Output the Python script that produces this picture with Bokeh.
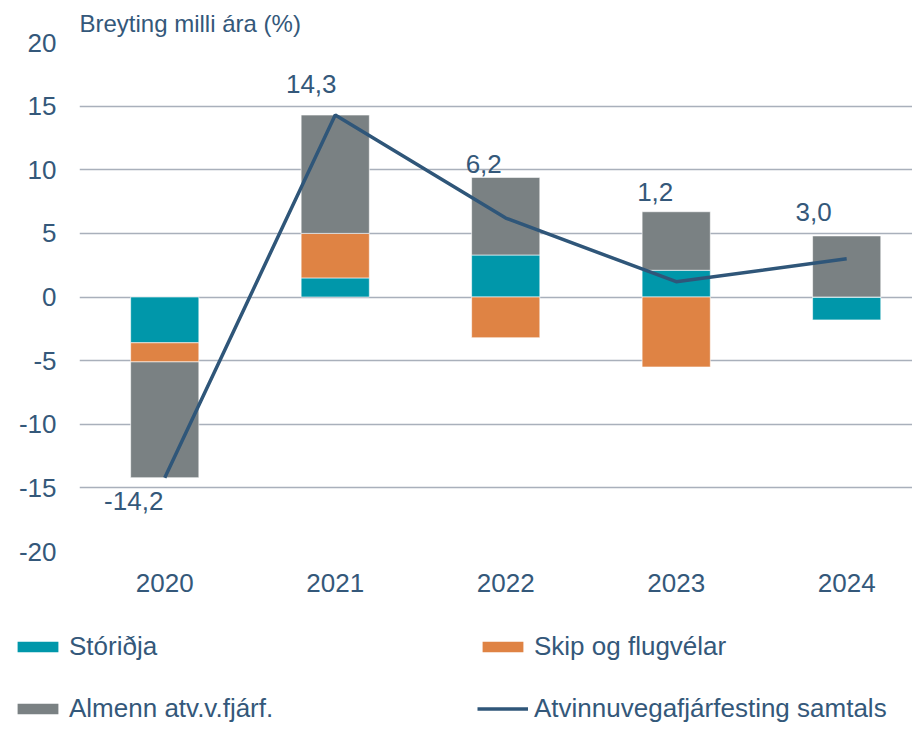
import numpy as np
from bokeh.plotting import figure
from bokeh.layouts import column
from bokeh.models import Range1d, FixedTicker, Legend, LegendItem, ColumnDataSource
from bokeh.core.properties import value
from bokeh.embed import file_html
from bokeh.resources import INLINE

years = ["2020", "2021", "2022", "2023", "2024"]
storidja = [-3.6, 1.5, 3.3, 2.1, -1.8]
skip_flug = [-1.5, 3.5, -3.2, -5.5, 0.0]
almenn = [-9.1, 9.3, 6.1, 4.6, 4.8]
samtals = [-14.2, 14.3, 6.2, 1.2, 3.0]
y_ticks = [-20, -15, -10, -5, 0, 5, 10, 15, 20]
series_names = ["Stóriðja", "Skip og flugvélar", "Almenn atv.v.fjárf."]
line_name = "Atvinnuvegafjárfesting samtals"
title_text = "Breyting milli ára (%)"

# label offsets in screen pixels (style only)
label_dx = [-31, -24, -22, -21, -33]
label_dy = [23, -31, -54, -90, -47]

TEXT = "#34587A"
FONT = "Liberation Sans"
COLORS = ["#0097AA", "#DF8344", "#7A8183"]
LINE = "#2F5679"

W = 912
H_MAIN = 610
H_LEG = 114

x = np.arange(len(years))

# stacked bar geometry (positives stack up, negatives stack down)
pos_base = np.zeros(len(years))
neg_base = np.zeros(len(years))
bar_sources = []
for series in [storidja, skip_flug, almenn]:
    vals = np.array(series, dtype=float)
    bottom = np.where(vals >= 0, pos_base, neg_base)
    top = bottom + vals
    pos_base = np.where(vals >= 0, top, pos_base)
    neg_base = np.where(vals < 0, top, neg_base)
    bar_sources.append(ColumnDataSource(dict(x=x, top=top, bottom=bottom)))

p = figure(width=W, height=H_MAIN, output_backend="svg", toolbar_location=None,
           x_range=Range1d(-0.5, 4.386), y_range=Range1d(-20, 20),
           min_border_left=79, min_border_right=0, min_border_top=42,
           min_border_bottom=H_MAIN - 551)
p.frame_align = False
p.outline_line_color = None
p.background_fill_color = "white"
p.border_fill_color = "white"

for src, color in zip(bar_sources, COLORS):
    p.vbar(x="x", top="top", bottom="bottom", width=0.4, source=src,
           fill_color=color, line_color="white", line_width=0.6)

p.line(x, samtals, line_color=LINE, line_width=3.5)

lbl_src = ColumnDataSource(dict(x=x, y=samtals,
                                t=[f"{v:.1f}".replace(".", ",") for v in samtals],
                                dx=label_dx, dy=label_dy))
p.text(x="x", y="y", text="t", x_offset="dx", y_offset="dy", source=lbl_src,
       text_align="center", text_baseline="middle", text_color=TEXT,
       text_font=value(FONT), text_font_size="26px")

p.xaxis.ticker = FixedTicker(ticks=list(x))
p.xaxis.major_label_overrides = {int(i): y for i, y in zip(x, years)}
p.yaxis.ticker = FixedTicker(ticks=y_ticks)
p.yaxis.major_label_overrides = {t: str(t) for t in y_ticks}
for ax in [p.xaxis[0], p.yaxis[0]]:
    ax.axis_line_color = None
    ax.major_tick_line_color = None
    ax.minor_tick_line_color = None
    ax.major_label_text_color = TEXT
    ax.major_label_text_font = FONT
    ax.major_label_text_font_size = "26px"
p.yaxis.major_label_standoff = 17
p.xaxis.major_label_standoff = 16
p.xgrid.grid_line_color = None
p.ygrid.grid_line_color = "#A9B0BB"
p.ygrid.grid_line_width = 1.5

p.title.text = title_text
p.title.align = "left"
p.title.offset = 0
p.title.standoff = 12
p.title.text_font = FONT
p.title.text_font_size = "24px"
p.title.text_font_style = "normal"
p.title.text_color = TEXT

# legend figure: same glyph styles, data kept out of its view
pl = figure(width=W, height=H_LEG, output_backend="svg", toolbar_location=None,
            x_range=Range1d(100, 101), y_range=Range1d(100, 101),
            x_axis_type=None, y_axis_type=None,
            min_border_left=0, min_border_right=0, min_border_top=0, min_border_bottom=0)
pl.frame_align = False
pl.outline_line_color = None
pl.grid.grid_line_color = None
pl.background_fill_color = "white"
pl.border_fill_color = "white"
leg_bars = [pl.vbar(x="x", top="top", bottom="bottom", width=0.4, source=src,
                    fill_color=color, line_color=None)
            for src, color in zip(bar_sources, COLORS)]
leg_line = pl.line(x, samtals, line_color=LINE, line_width=3.5)

def make_legend(items, vy):
    lg = Legend(items=items, location=(12, vy), orientation="horizontal",
                glyph_width=51, glyph_height=13, label_height=13, label_width=400,
                label_standoff=6, spacing=8, padding=0, margin=0,
                border_line_color=None, background_fill_alpha=0,
                label_text_color=TEXT, label_text_font=FONT, label_text_font_size="26px")
    pl.add_layout(lg)

make_legend([LegendItem(label=series_names[0], renderers=[leg_bars[0]]),
             LegendItem(label=series_names[1], renderers=[leg_bars[1]])], 62)
make_legend([LegendItem(label=series_names[2], renderers=[leg_bars[2]]),
             LegendItem(label=line_name, renderers=[leg_line])], 0)

layout = column(p, pl, spacing=0)
open("out.html", "w").write(file_html(layout, INLINE))
